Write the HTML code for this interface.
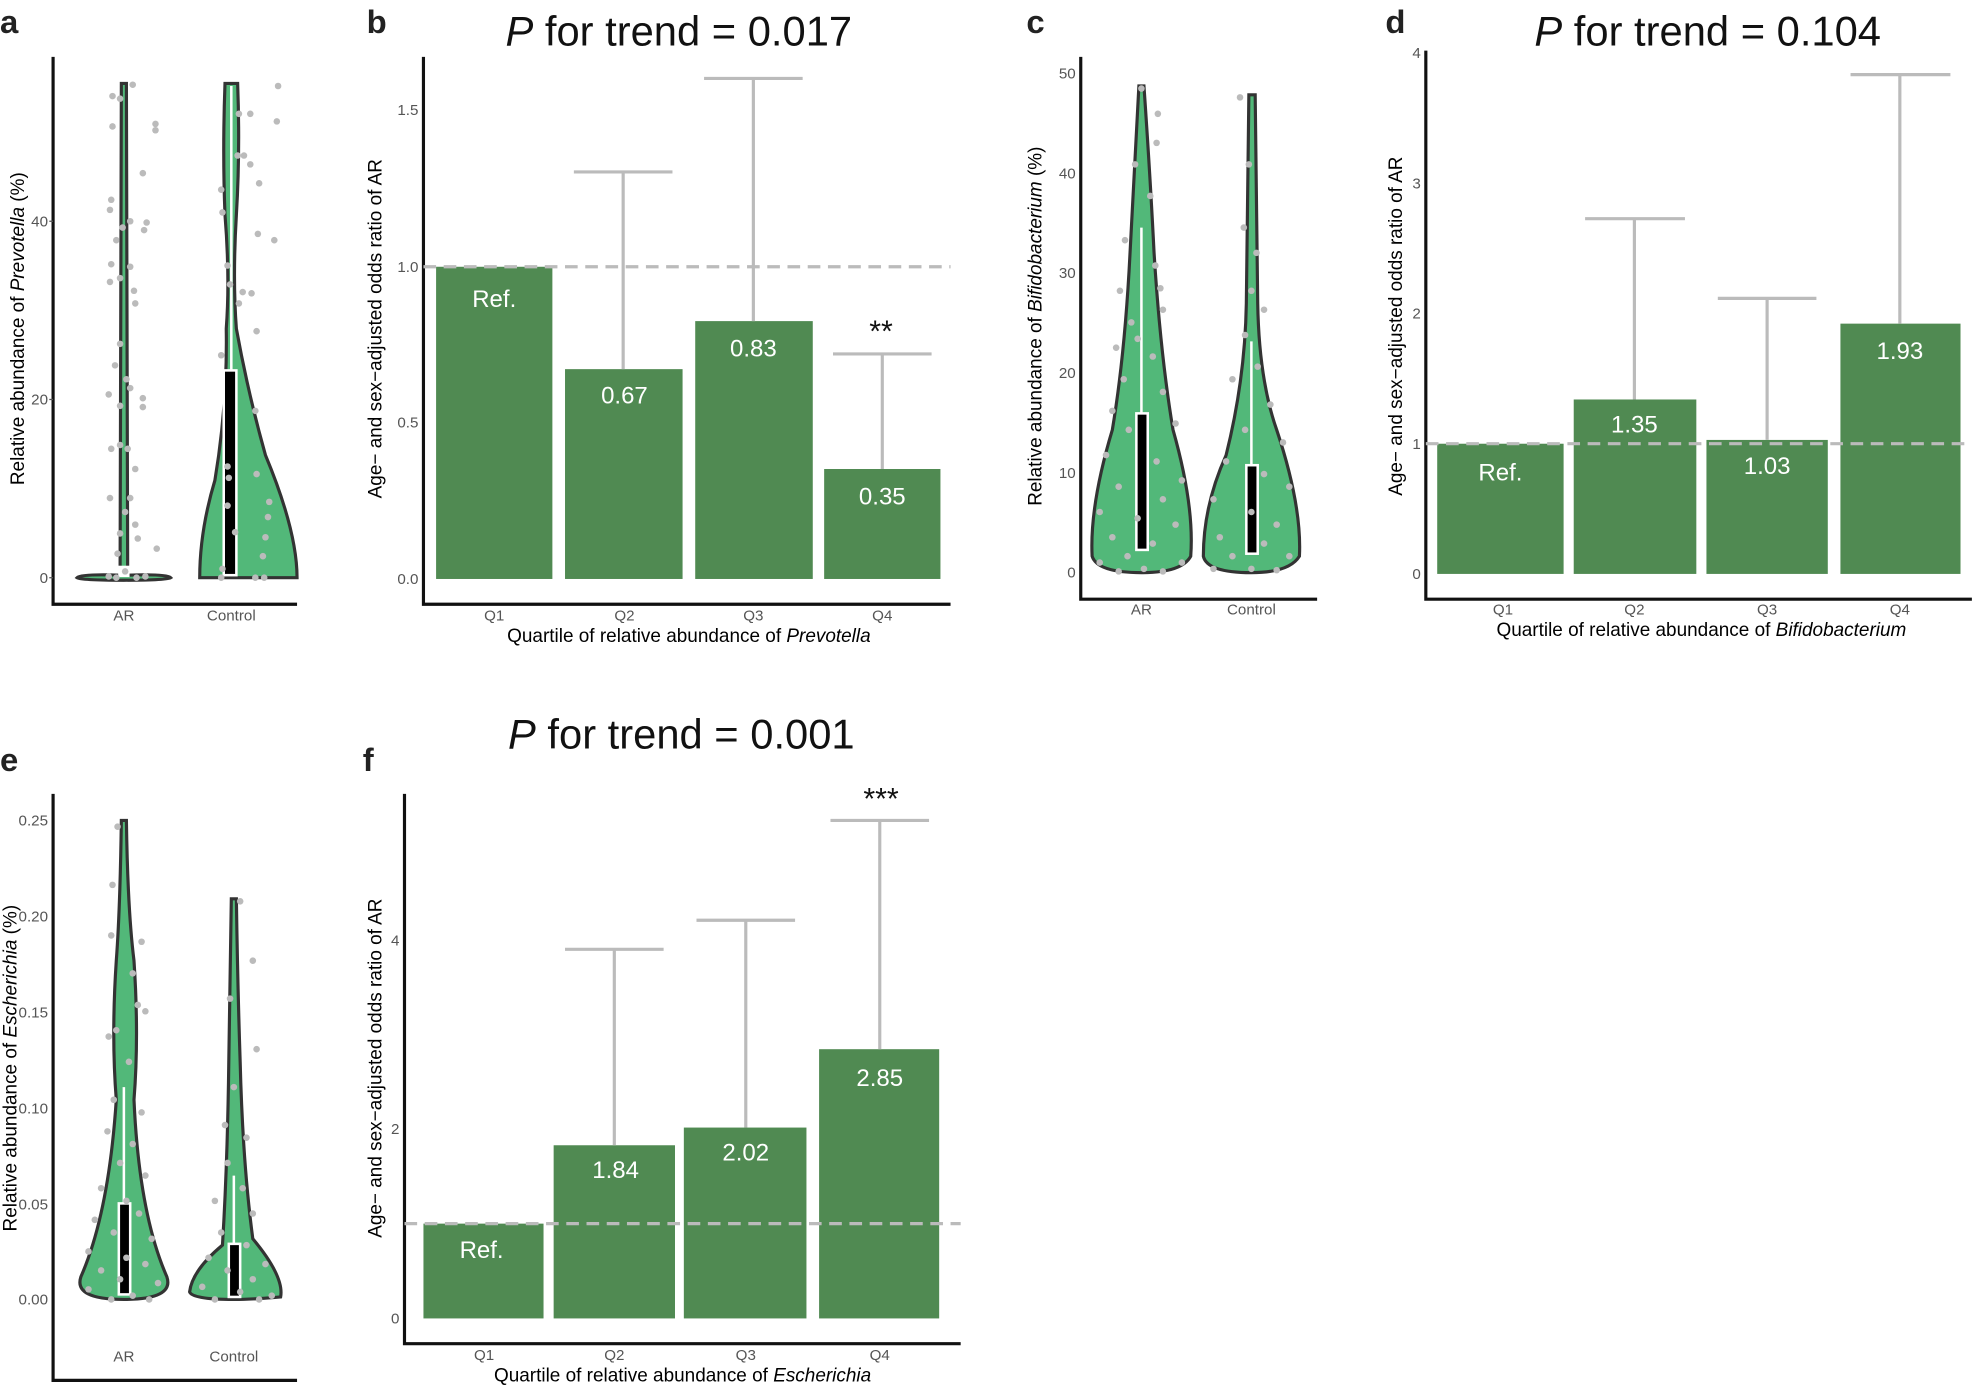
<!DOCTYPE html>
<html><head><meta charset="utf-8"><style>
html,body{margin:0;padding:0;background:#fff}
svg{display:block}
text{font-family:"Liberation Sans",Arial,sans-serif}
.tk{font-size:12px;fill:#555}
.lab{font-size:15px;fill:#000}
.pl{font-size:26px;font-weight:bold;fill:#222}
.ttl{font-size:33px;fill:#111}
.bv{font-size:19px;fill:#fff}
circle{r:2.6px}
</style></head><body>
<svg width="1982" height="1388" viewBox="0 0 1568 1098" xmlns="http://www.w3.org/2000/svg">
<g stroke-linecap="butt">
<text class="pl" x="0" y="26">a</text>
<text class="pl" x="290" y="26">b</text>
<text class="pl" x="812" y="26">c</text>
<text class="pl" x="1096" y="26">d</text>
<text class="pl" x="0" y="610">e</text>
<text class="pl" x="287" y="610">f</text>

<!-- ===== Panel a ===== -->
<path d="M42 45 V478 H235" fill="none" stroke="#111" stroke-width="2.5"/>
<g class="tk" text-anchor="end"><text x="38" y="461">0</text><text x="38" y="320">20</text><text x="38" y="179">40</text></g>
<g stroke="#555"><line x1="39" y1="457" x2="42" y2="457"/><line x1="39" y1="316" x2="42" y2="316"/><line x1="39" y1="175" x2="42" y2="175"/></g>
<text class="lab" transform="translate(19 260) rotate(-90)" text-anchor="middle">Relative abundance of <tspan font-style="italic">Prevotella</tspan> (%)</text>
<g class="tk" text-anchor="middle"><text x="98" y="491">AR</text><text x="183" y="491">Control</text></g>
<path d="M61 457 Q64 454 95 455 L96 66 L100 66 L101 455 Q132 454 135 457 Q132 459 98 459 Q64 459 61 457Z" fill="#52b879" stroke="#333" stroke-width="2.5"/>
<rect x="94" y="448" width="8" height="8" fill="#fff" stroke="#fff"/>
<path d="M178 66 L188 66 Q190 120 187 170 Q184 220 187 260 Q196 310 210 360 Q235 420 235 457 L158 457 Q158 420 170 380 Q180 320 179 260 Q182 220 178 170 Q176 120 178 66Z" fill="#52b879" stroke="#333" stroke-width="2.5"/>
<rect x="177" y="293" width="10" height="162" fill="#000" stroke="#fff" stroke-width="2"/>
<line x1="183" y1="68" x2="183" y2="293" stroke="#fff" stroke-width="2"/>
<g fill="#bbb">
<circle cx="105" cy="67" r="2.6"/><circle cx="89" cy="76" r="2.6"/><circle cx="95" cy="78" r="2.6"/><circle cx="89" cy="100" r="2.6"/><circle cx="123" cy="98" r="2.6"/><circle cx="123" cy="103" r="2.6"/><circle cx="113" cy="137" r="2.6"/><circle cx="88" cy="158" r="2.6"/><circle cx="87" cy="166" r="2.6"/><circle cx="97" cy="180" r="2.6"/><circle cx="103" cy="175" r="2.6"/><circle cx="114" cy="182" r="2.6"/><circle cx="116" cy="176" r="2.6"/><circle cx="92" cy="190" r="2.6"/><circle cx="88" cy="209" r="2.6"/><circle cx="103" cy="211" r="2.6"/><circle cx="87" cy="223" r="2.6"/><circle cx="95" cy="220" r="2.6"/><circle cx="106" cy="230" r="2.6"/><circle cx="107" cy="240" r="2.6"/><circle cx="95" cy="272" r="2.6"/><circle cx="91" cy="289" r="2.6"/><circle cx="100" cy="300" r="2.6"/><circle cx="103" cy="307" r="2.6"/><circle cx="86" cy="312" r="2.6"/><circle cx="113" cy="322" r="2.6"/><circle cx="95" cy="321" r="2.6"/><circle cx="113" cy="315" r="2.6"/><circle cx="88" cy="355" r="2.6"/><circle cx="95" cy="352" r="2.6"/><circle cx="101" cy="355" r="2.6"/><circle cx="107" cy="371" r="2.6"/><circle cx="87" cy="394" r="2.6"/><circle cx="103" cy="394" r="2.6"/><circle cx="99" cy="405" r="2.6"/><circle cx="107" cy="415" r="2.6"/><circle cx="95" cy="422" r="2.6"/><circle cx="124" cy="434" r="2.6"/><circle cx="109" cy="426" r="2.6"/><circle cx="93" cy="438" r="2.6"/><circle cx="99" cy="452" r="2.6"/><circle cx="86" cy="456" r="2.6"/><circle cx="115" cy="456" r="2.6"/><circle cx="92" cy="457" r="2.6"/><circle cx="108" cy="457" r="2.6"/>
<circle cx="220" cy="68" r="2.6"/><circle cx="198" cy="90" r="2.6"/><circle cx="189" cy="90" r="2.6"/><circle cx="219" cy="96" r="2.6"/><circle cx="188" cy="123" r="2.6"/><circle cx="193" cy="123" r="2.6"/><circle cx="198" cy="130" r="2.6"/><circle cx="205" cy="145" r="2.6"/><circle cx="175" cy="150" r="2.6"/><circle cx="176" cy="168" r="2.6"/><circle cx="204" cy="185" r="2.6"/><circle cx="217" cy="190" r="2.6"/><circle cx="180" cy="210" r="2.6"/><circle cx="182" cy="225" r="2.6"/><circle cx="192" cy="231" r="2.6"/><circle cx="199" cy="232" r="2.6"/><circle cx="189" cy="240" r="2.6"/><circle cx="203" cy="262" r="2.6"/><circle cx="175" cy="281" r="2.6"/><circle cx="202" cy="325" r="2.6"/><circle cx="180" cy="369" r="2.6"/><circle cx="181" cy="378" r="2.6"/><circle cx="203" cy="375" r="2.6"/><circle cx="213" cy="397" r="2.6"/><circle cx="180" cy="400" r="2.6"/><circle cx="212" cy="409" r="2.6"/><circle cx="186" cy="421" r="2.6"/><circle cx="210" cy="425" r="2.6"/><circle cx="208" cy="440" r="2.6"/><circle cx="176" cy="450" r="2.6"/><circle cx="175" cy="457" r="2.6"/><circle cx="202" cy="457" r="2.6"/><circle cx="209" cy="457" r="2.6"/>
</g>

<!-- ===== Panel b ===== -->
<text class="ttl" x="537" y="36" text-anchor="middle"><tspan font-style="italic">P</tspan> for trend = 0.017</text>
<path d="M335 45 V478 H752" fill="none" stroke="#111" stroke-width="2.5"/>
<g class="tk" text-anchor="end"><text x="331" y="462">0.0</text><text x="331" y="338">0.5</text><text x="331" y="215">1.0</text><text x="331" y="91">1.5</text></g>
<text class="lab" transform="translate(302 260) rotate(-90)" text-anchor="middle">Age− and sex−adjusted odds ratio of AR</text>
<g fill="#508a52">
<rect x="345" y="211" width="92" height="247"/><rect x="447" y="292" width="93" height="166"/><rect x="550" y="254" width="93" height="204"/><rect x="652" y="371" width="92" height="87"/></g>
<g stroke="#bbb" stroke-width="2.5" fill="none">
<path d="M493 292 V136 M454 136 H532"/><path d="M596 254 V62 M557 62 H635"/><path d="M698 371 V280 M659 280 H737"/></g>
<line x1="335" y1="211" x2="752" y2="211" stroke="#bbb" stroke-width="2.5" stroke-dasharray="10 6"/>
<g class="bv" text-anchor="middle"><text x="391" y="243">Ref.</text><text x="494" y="319">0.67</text><text x="596" y="282">0.83</text><text x="698" y="399">0.35</text></g>
<text x="697" y="270" text-anchor="middle" font-size="24" fill="#111">**</text>
<g class="tk" text-anchor="middle"><text x="391" y="491">Q1</text><text x="494" y="491">Q2</text><text x="596" y="491">Q3</text><text x="698" y="491">Q4</text></g>
<text class="lab" x="545" y="508" text-anchor="middle">Quartile of relative abundance of <tspan font-style="italic">Prevotella</tspan></text>

<!-- ===== Panel c ===== -->
<path d="M855 45 V474 H1042" fill="none" stroke="#111" stroke-width="2.5"/>
<g class="tk" text-anchor="end"><text x="851" y="457">0</text><text x="851" y="378">10</text><text x="851" y="299">20</text><text x="851" y="220">30</text><text x="851" y="141">40</text><text x="851" y="62">50</text></g>
<text class="lab" transform="translate(824 258) rotate(-90)" text-anchor="middle">Relative abundance of <tspan font-style="italic">Bifidobacterium</tspan> (%)</text>
<g class="tk" text-anchor="middle"><text x="903" y="486">AR</text><text x="990" y="486">Control</text></g>
<path d="M901 68 L905 68 Q910 140 913 200 Q918 280 928 340 Q945 400 942 440 Q935 453 903 453 Q868 453 864 440 Q862 400 880 340 Q890 280 894 200 Q897 140 901 68Z" fill="#52b879" stroke="#333" stroke-width="2.5"/>
<path d="M988 75 L993 75 Q994 160 995 240 Q996 300 1010 340 Q1030 400 1028 440 Q1020 453 990 453 Q955 453 952 440 Q952 400 970 360 Q985 300 986 240 Q987 160 988 75Z" fill="#52b879" stroke="#333" stroke-width="2.5"/>
<rect x="899" y="327" width="9" height="108" fill="#000" stroke="#fff" stroke-width="2"/>
<line x1="903" y1="180" x2="903" y2="327" stroke="#fff" stroke-width="2"/>
<rect x="986" y="368" width="9" height="70" fill="#000" stroke="#fff" stroke-width="2"/>
<line x1="990" y1="270" x2="990" y2="368" stroke="#fff" stroke-width="2"/>
<g fill="#bbb">
<circle cx="903" cy="70" r="2.6"/><circle cx="915" cy="113" r="2.6"/><circle cx="898" cy="130" r="2.6"/><circle cx="910" cy="155" r="2.6"/><circle cx="890" cy="190" r="2.6"/><circle cx="914" cy="210" r="2.6"/><circle cx="886" cy="230" r="2.6"/><circle cx="920" cy="245" r="2.6"/><circle cx="895" cy="255" r="2.6"/><circle cx="883" cy="275" r="2.6"/><circle cx="912" cy="282" r="2.6"/><circle cx="889" cy="300" r="2.6"/><circle cx="920" cy="310" r="2.6"/><circle cx="880" cy="325" r="2.6"/><circle cx="930" cy="335" r="2.6"/><circle cx="893" cy="340" r="2.6"/><circle cx="875" cy="360" r="2.6"/><circle cx="915" cy="365" r="2.6"/><circle cx="935" cy="380" r="2.6"/><circle cx="885" cy="385" r="2.6"/><circle cx="920" cy="395" r="2.6"/><circle cx="870" cy="405" r="2.6"/><circle cx="900" cy="410" r="2.6"/><circle cx="930" cy="415" r="2.6"/><circle cx="880" cy="425" r="2.6"/><circle cx="912" cy="430" r="2.6"/><circle cx="892" cy="440" r="2.6"/><circle cx="870" cy="445" r="2.6"/><circle cx="935" cy="445" r="2.6"/><circle cx="905" cy="450" r="2.6"/><circle cx="885" cy="452" r="2.6"/><circle cx="920" cy="452" r="2.6"/><circle cx="916" cy="90" r="2.6"/><circle cx="900" cy="268" r="2.6"/><circle cx="918" cy="228" r="2.6"/>
<circle cx="981" cy="77" r="2.6"/><circle cx="988" cy="130" r="2.6"/><circle cx="984" cy="180" r="2.6"/><circle cx="994" cy="200" r="2.6"/><circle cx="990" cy="230" r="2.6"/><circle cx="1000" cy="245" r="2.6"/><circle cx="985" cy="265" r="2.6"/><circle cx="995" cy="290" r="2.6"/><circle cx="975" cy="300" r="2.6"/><circle cx="1005" cy="320" r="2.6"/><circle cx="985" cy="340" r="2.6"/><circle cx="1015" cy="350" r="2.6"/><circle cx="970" cy="365" r="2.6"/><circle cx="1000" cy="375" r="2.6"/><circle cx="1020" cy="385" r="2.6"/><circle cx="960" cy="395" r="2.6"/><circle cx="990" cy="405" r="2.6"/><circle cx="1010" cy="415" r="2.6"/><circle cx="965" cy="425" r="2.6"/><circle cx="1000" cy="430" r="2.6"/><circle cx="975" cy="440" r="2.6"/><circle cx="1020" cy="440" r="2.6"/><circle cx="960" cy="450" r="2.6"/><circle cx="990" cy="450" r="2.6"/><circle cx="1010" cy="451" r="2.6"/>
</g>

<!-- ===== Panel d ===== -->
<text class="ttl" x="1351" y="36" text-anchor="middle"><tspan font-style="italic">P</tspan> for trend = 0.104</text>
<path d="M1128 40 V474 H1560" fill="none" stroke="#111" stroke-width="2.5"/>
<g class="tk" text-anchor="end"><text x="1124" y="458">0</text><text x="1124" y="355">1</text><text x="1124" y="252">2</text><text x="1124" y="149">3</text><text x="1124" y="46">4</text></g>
<text class="lab" transform="translate(1109 258) rotate(-90)" text-anchor="middle">Age− and sex−adjusted odds ratio of AR</text>
<g fill="#508a52">
<rect x="1137" y="351" width="100" height="103"/><rect x="1245" y="316" width="97" height="138"/><rect x="1350" y="348" width="96" height="106"/><rect x="1456" y="256" width="95" height="198"/></g>
<g stroke="#bbb" stroke-width="2.5" fill="none">
<path d="M1293 316 V173 M1254 173 H1333"/><path d="M1398 348 V236 M1359 236 H1437"/><path d="M1503 256 V59 M1464 59 H1543"/></g>
<line x1="1128" y1="351" x2="1560" y2="351" stroke="#bbb" stroke-width="2.5" stroke-dasharray="10 6"/>
<g class="bv" text-anchor="middle"><text x="1187" y="380">Ref.</text><text x="1293" y="342">1.35</text><text x="1398" y="375">1.03</text><text x="1503" y="284">1.93</text></g>
<g class="tk" text-anchor="middle"><text x="1189" y="486">Q1</text><text x="1293" y="486">Q2</text><text x="1398" y="486">Q3</text><text x="1503" y="486">Q4</text></g>
<text class="lab" x="1346" y="503" text-anchor="middle">Quartile of relative abundance of <tspan font-style="italic">Bifidobacterium</tspan></text>

<!-- ===== Panel e ===== -->
<path d="M42 628 V1092 H235" fill="none" stroke="#111" stroke-width="2.5"/>
<g class="tk" text-anchor="end"><text x="38" y="1032">0.00</text><text x="38" y="957">0.05</text><text x="38" y="881">0.10</text><text x="38" y="805">0.15</text><text x="38" y="729">0.20</text><text x="38" y="653">0.25</text></g>
<text class="lab" transform="translate(13 845) rotate(-90)" text-anchor="middle">Relative abundance of <tspan font-style="italic">Escherichia</tspan> (%)</text>
<g class="tk" text-anchor="middle"><text x="98" y="1077">AR</text><text x="185" y="1077">Control</text></g>
<path d="M96 649 L100 649 Q101 720 106 760 Q110 820 106 870 Q110 960 132 1010 Q138 1028 98 1028 Q58 1028 64 1010 Q86 960 92 870 Q88 820 92 760 Q95 720 96 649Z" fill="#52b879" stroke="#333" stroke-width="2.5"/>
<path d="M183 711 L187 711 Q188 780 190 840 Q192 920 200 980 Q225 1010 222 1026 Q200 1028 185 1028 Q152 1028 150 1022 Q152 1005 176 985 Q180 920 181 840 Q182 780 183 711Z" fill="#52b879" stroke="#333" stroke-width="2.5"/>
<rect x="94" y="952" width="9" height="72" fill="#000" stroke="#fff" stroke-width="2"/>
<line x1="98" y1="860" x2="98" y2="952" stroke="#fff" stroke-width="2"/>
<rect x="181" y="984" width="9" height="42" fill="#000" stroke="#fff" stroke-width="2"/>
<line x1="185" y1="930" x2="185" y2="984" stroke="#fff" stroke-width="2"/>
<g fill="#bbb">
<circle cx="93" cy="654" r="2.6"/><circle cx="89" cy="700" r="2.6"/><circle cx="88" cy="740" r="2.6"/><circle cx="112" cy="745" r="2.6"/><circle cx="105" cy="770" r="2.6"/><circle cx="115" cy="800" r="2.6"/><circle cx="92" cy="815" r="2.6"/><circle cx="102" cy="840" r="2.6"/><circle cx="90" cy="870" r="2.6"/><circle cx="112" cy="880" r="2.6"/><circle cx="85" cy="895" r="2.6"/><circle cx="105" cy="905" r="2.6"/><circle cx="95" cy="920" r="2.6"/><circle cx="115" cy="930" r="2.6"/><circle cx="80" cy="940" r="2.6"/><circle cx="100" cy="950" r="2.6"/><circle cx="110" cy="960" r="2.6"/><circle cx="75" cy="965" r="2.6"/><circle cx="90" cy="975" r="2.6"/><circle cx="120" cy="980" r="2.6"/><circle cx="70" cy="990" r="2.6"/><circle cx="100" cy="995" r="2.6"/><circle cx="115" cy="1000" r="2.6"/><circle cx="80" cy="1005" r="2.6"/><circle cx="95" cy="1012" r="2.6"/><circle cx="125" cy="1015" r="2.6"/><circle cx="70" cy="1020" r="2.6"/><circle cx="105" cy="1025" r="2.6"/><circle cx="88" cy="1028" r="2.6"/><circle cx="118" cy="1028" r="2.6"/><circle cx="109" cy="795" r="2.6"/><circle cx="86" cy="820" r="2.6"/>
<circle cx="190" cy="713" r="2.6"/><circle cx="200" cy="760" r="2.6"/><circle cx="182" cy="790" r="2.6"/><circle cx="203" cy="830" r="2.6"/><circle cx="185" cy="860" r="2.6"/><circle cx="178" cy="890" r="2.6"/><circle cx="195" cy="900" r="2.6"/><circle cx="180" cy="920" r="2.6"/><circle cx="192" cy="940" r="2.6"/><circle cx="170" cy="950" r="2.6"/><circle cx="200" cy="960" r="2.6"/><circle cx="175" cy="975" r="2.6"/><circle cx="195" cy="985" r="2.6"/><circle cx="165" cy="995" r="2.6"/><circle cx="210" cy="1000" r="2.6"/><circle cx="180" cy="1005" r="2.6"/><circle cx="200" cy="1012" r="2.6"/><circle cx="160" cy="1018" r="2.6"/><circle cx="190" cy="1022" r="2.6"/><circle cx="215" cy="1025" r="2.6"/><circle cx="170" cy="1028" r="2.6"/><circle cx="205" cy="1028" r="2.6"/>
</g>

<!-- ===== Panel f ===== -->
<text class="ttl" x="539" y="592" text-anchor="middle"><tspan font-style="italic">P</tspan> for trend = 0.001</text>
<path d="M320 628 V1063 H760" fill="none" stroke="#111" stroke-width="2.5"/>
<g class="tk" text-anchor="end"><text x="316" y="1047">0</text><text x="316" y="897">2</text><text x="316" y="748">4</text></g>
<text class="lab" transform="translate(302 845) rotate(-90)" text-anchor="middle">Age− and sex−adjusted odds ratio of AR</text>
<g fill="#508a52">
<rect x="335" y="968" width="95" height="75"/><rect x="438" y="906" width="96" height="137"/><rect x="541" y="892" width="97" height="151"/><rect x="648" y="830" width="95" height="213"/></g>
<g stroke="#bbb" stroke-width="2.5" fill="none">
<path d="M486 906 V751 M447 751 H525"/><path d="M590 892 V728 M551 728 H629"/><path d="M696 830 V649 M657 649 H735"/></g>
<line x1="320" y1="968" x2="760" y2="968" stroke="#bbb" stroke-width="2.5" stroke-dasharray="10 6"/>
<g class="bv" text-anchor="middle"><text x="381" y="995">Ref.</text><text x="487" y="932">1.84</text><text x="590" y="918">2.02</text><text x="696" y="859">2.85</text></g>
<text x="697" y="640" text-anchor="middle" font-size="24" fill="#111">***</text>
<g class="tk" text-anchor="middle"><text x="383" y="1076">Q1</text><text x="486" y="1076">Q2</text><text x="590" y="1076">Q3</text><text x="696" y="1076">Q4</text></g>
<text class="lab" x="540" y="1093" text-anchor="middle">Quartile of relative abundance of <tspan font-style="italic">Escherichia</tspan></text>
</g>
</svg>
</body></html>
